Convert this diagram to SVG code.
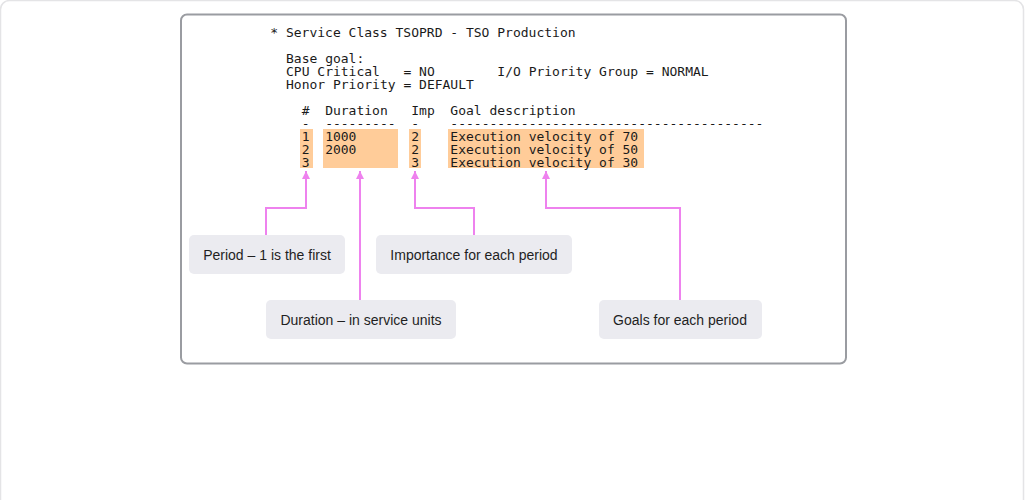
<svg xmlns="http://www.w3.org/2000/svg" width="1025" height="500" viewBox="0 0 1025 500">
  <style>
    .mono { font-family: "DejaVu Sans Mono", "Liberation Mono", monospace; font-size: 13px; fill: #1a1a1a; white-space: pre; }
    .hl { fill: #ffcc99; }
    .lbl rect { fill: #ebebf0; }
    .lbl text { font-family: "Liberation Sans", Arial, sans-serif; font-size: 14px; fill: #1f1f1f; text-anchor: middle; }
    .conn path { fill: none; stroke: #ee82ee; stroke-width: 2; }
  </style>
  <defs>
    <marker id="arr" viewBox="0 0 10 10" refX="10" refY="5" markerWidth="9" markerHeight="8" markerUnits="userSpaceOnUse" orient="auto">
      <path d="M0,0 L10,5 L0,10 z" fill="#ee82ee"/>
    </marker>
  </defs>
  <rect x="0" y="0" width="1025" height="500" fill="#ffffff"/>
  <rect x="0.5" y="0.5" width="1023" height="530" rx="9" fill="none" stroke="#e4e4e6" stroke-width="1.5"/>
  <g id="frame">
    <rect x="181" y="14.5" width="665" height="349" rx="6" fill="#ffffff" stroke="#9a9ca1" stroke-width="2"/>
  </g>
  <g id="highlights">
    <rect class="hl" x="300" y="129" width="13" height="39"/>
    <rect class="hl" x="323" y="129" width="75" height="39"/>
    <rect class="hl" x="409" y="129" width="12" height="39"/>
    <rect class="hl" x="448" y="129" width="196" height="39"/>
  </g>
  <g id="listing">
    <text class="mono" x="270.3" y="36.5">* Service Class TSOPRD - TSO Production</text>
    <text class="mono" x="286" y="62.5">Base goal:</text>
    <text class="mono" x="286" y="75.5">CPU Critical   = NO        I/O Priority Group = NORMAL</text>
    <text class="mono" x="286" y="88.5">Honor Priority = DEFAULT</text>
    <text class="mono" x="286" y="114.5">  #  Duration   Imp  Goal description</text>
    <text class="mono" x="286" y="127.5">  -  ---------  -    ----------------------------------------</text>
    <text class="mono" x="286" y="140.5">  1  1000       2    Execution velocity of 70</text>
    <text class="mono" x="286" y="153.5">  2  2000       2    Execution velocity of 50</text>
    <text class="mono" x="286" y="166.5">  3             3    Execution velocity of 30</text>
  </g>
  <g id="connectors" class="conn">
    <path d="M266,235 V208 H306 V171" marker-end="url(#arr)"/>
    <path d="M360,300 V171" marker-end="url(#arr)"/>
    <path d="M474,235 V208 H415 V171" marker-end="url(#arr)"/>
    <path d="M680,300 V208 H546 V171" marker-end="url(#arr)"/>
  </g>
  <g id="label-period" class="lbl">
    <rect x="189" y="235" width="156" height="39" rx="5"/>
    <text x="267" y="259.5">Period – 1 is the first</text>
  </g>
  <g id="label-importance" class="lbl">
    <rect x="376" y="235" width="196" height="39" rx="5"/>
    <text x="474" y="259.5">Importance for each period</text>
  </g>
  <g id="label-duration" class="lbl">
    <rect x="266" y="300" width="190" height="39" rx="5"/>
    <text x="361" y="324.5">Duration – in service units</text>
  </g>
  <g id="label-goals" class="lbl">
    <rect x="599" y="300" width="163" height="39" rx="5"/>
    <text x="680" y="324.5">Goals for each period</text>
  </g>
</svg>
